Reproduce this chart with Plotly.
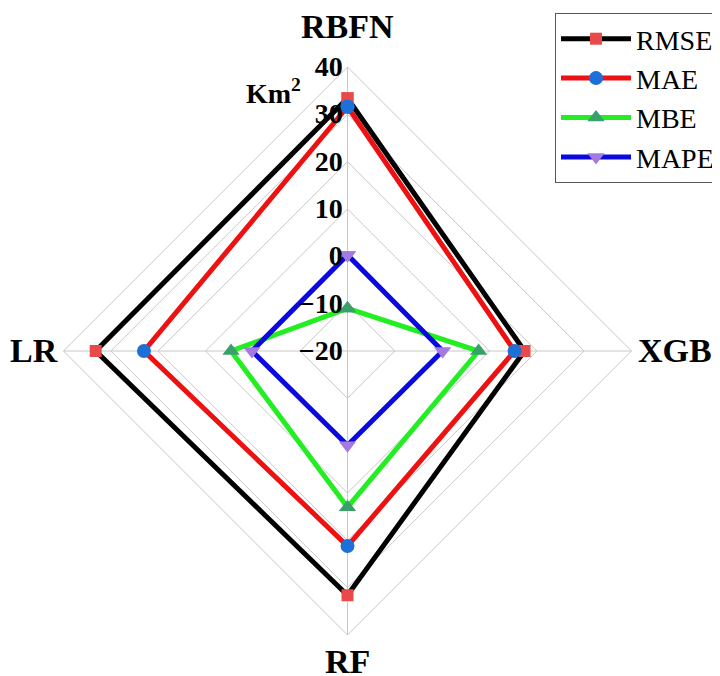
import plotly.graph_objects as go

categories = ["RBFN", "XGB", "RF", "LR"]
rmse = [33.4, 17.4, 31.6, 33.2]
mae = [31.6, 15.3, 21.2, 23.0]
mbe = [-11.0, 7.7, 13.0, 4.6]
mape = [0.3, 0.1, -0.1, 0.2]
radial_ticks = [-20, -10, 0, 10, 20, 30, 40]
unit_label = "Km<sup>2</sup>"

# Plotly hides polygon-grid markers when the radial range starts below zero,
# so the radial axis is offset to start at 0 and relabelled with true values.
r_min, r_max = -20, 40


def to_axis(v):
    return v - r_min


def tick_text(t):
    return ("\u2212" + str(-t)) if t < 0 else str(t)


series = [
    ("RMSE", rmse, "#000000", "#e84a4a", "square", 12),
    ("MAE", mae, "#ee1111", "#1e6fd8", "circle", 14),
    ("MBE", mbe, "#22ee22", "#3aa06a", "triangle-up", 15),
    ("MAPE", mape, "#0a0ae0", "#a57ae0", "triangle-down", 15),
]

fig = go.Figure()
for name, vals, lc, mc, sym, ms in series:
    closed = vals + [vals[0]]
    fig.add_trace(go.Scatterpolar(
        r=[to_axis(v) for v in closed],
        theta=categories + [categories[0]],
        customdata=closed,
        hovertemplate="%{theta}: %{customdata}<extra>" + name + "</extra>",
        mode="lines+markers",
        name=name,
        line=dict(color=lc, width=5),
        marker=dict(color=mc, symbol=sym, size=ms, line=dict(width=0)),
    ))

serif = "Liberation Serif, Times New Roman, serif"
# the page body has an 8px margin, so paper coords = screen coords - 8
annotations = [dict(
    text=unit_label, xref="paper", yref="paper",
    x=265.5 / 720, y=1 - 64 / 676, showarrow=False,
    font=dict(family=serif, size=28, color="black", weight="bold"),
)]
label_pos = {"RBFN": (339, 18), "XGB": (667, 342), "RF": (339, 653), "LR": (25.5, 342)}
for cat in categories:
    px, py = label_pos[cat]
    annotations.append(dict(
        text=cat, xref="paper", yref="paper", x=px / 720, y=1 - py / 676,
        xanchor="center", yanchor="middle", showarrow=False,
        font=dict(family=serif, size=34, color="black", weight="bold"),
    ))

fig.update_layout(
    width=720, height=676,
    margin=dict(l=0, r=0, t=0, b=0),
    paper_bgcolor="white",
    plot_bgcolor="white",
    polar=dict(
        domain=dict(x=[55.5 / 720, 623.5 / 720], y=[49 / 676, 617 / 676]),
        bgcolor="white",
        gridshape="linear",
        radialaxis=dict(
            range=[to_axis(r_min), to_axis(r_max)],
            tickvals=[to_axis(t) for t in radial_ticks],
            ticktext=[tick_text(t) for t in radial_ticks],
            angle=90,
            tickangle=90,
            side="counterclockwise",
            showline=False,
            ticks="",
            gridcolor="#c8c8c8",
            gridwidth=1,
            tickfont=dict(family=serif, size=28, color="black", weight="bold"),
        ),
        angularaxis=dict(
            rotation=90,
            direction="clockwise",
            linecolor="#c8c8c8",
            linewidth=1,
            gridcolor="#c8c8c8",
            gridwidth=1,
            ticks="",
            showticklabels=False,
        ),
    ),
    legend=dict(
        x=547 / 720, y=1 - 5 / 676, xanchor="left", yanchor="top",
        bordercolor="#555555", borderwidth=1, bgcolor="white",
        font=dict(family=serif, size=28, color="black"),
        tracegroupgap=0, itemwidth=70,
    ),
    annotations=annotations,
)

fig.write_html("out.html")
